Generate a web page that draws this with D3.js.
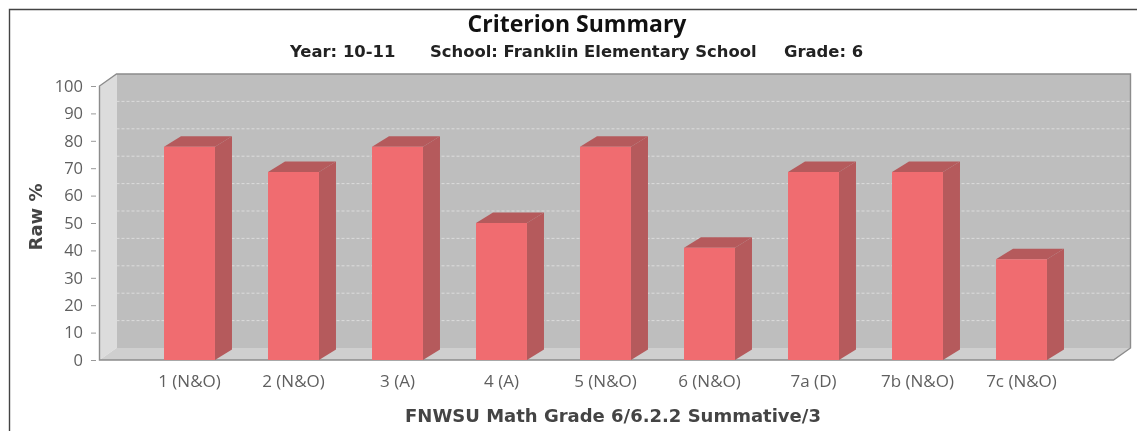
<!DOCTYPE html>
<html><head><meta charset="utf-8">
<script src="https://cdn.jsdelivr.net/npm/d3@7"></script>
<style>
html,body{margin:0;padding:0;background:#fff;overflow:hidden}
svg{display:block;filter:blur(0.45px)}
</style></head><body>
<svg id="c" width="1137" height="431"></svg>
<script>
const categories = ["1 (N&O)","2 (N&O)","3 (A)","4 (A)","5 (N&O)","6 (N&O)","7a (D)","7b (N&O)","7c (N&O)"];
const rawPercent = [77.8,68.6,77.8,50,77.8,41,68.6,68.6,36.8];
const yTicks = [0,10,20,30,40,50,60,70,80,90,100];
const titleText = "Criterion Summary";
const subtitleParts = ["Year: 10-11","School: Franklin Elementary School","Grade: 6"];
const subtitleStarts = [290,430,784];
const xAxisTitle = "FNWSU Math Grade 6/6.2.2 Summative/3";
const yAxisTitle = "Raw %";

const depthX = 17, depthY = 12, barDepthY = 10.5;
const plotLeft = 99.5, plotRight = 1113.5, plotTop = 86, plotBottom = 360;
const svg = d3.select("#c");
const y = d3.scaleLinear().domain([0,100]).range([plotBottom,plotTop]);
const x = d3.scaleBand().domain(categories).range([137.5,1073.5]).paddingInner(0.51).paddingOuter(0.255);
const sans = "'DejaVu Sans',sans-serif";
const open = "'Open Sans',sans-serif";

// outer frame
svg.append("path").attr("d","M9.5,431V9.5H1137").attr("fill","none").attr("stroke","#444").attr("stroke-width",1.4);

const poly = (pts,fill,stroke)=>svg.append("polygon").attr("points",pts.map(p=>p.join(",")).join(" ")).attr("fill",fill).attr("stroke",stroke||"none");

// back wall, side wall, floor
poly([[plotLeft+depthX,plotTop-depthY],[plotRight+depthX,plotTop-depthY],[plotRight+depthX,plotBottom-depthY],[plotLeft+depthX,plotBottom-depthY]],"#bebebe");
poly([[plotLeft,plotTop],[plotLeft+depthX,plotTop-depthY],[plotLeft+depthX,plotBottom-depthY],[plotLeft,plotBottom]],"#dcdcdc");
poly([[plotLeft,plotBottom],[plotLeft+depthX,plotBottom-depthY],[plotRight+depthX,plotBottom-depthY],[plotRight,plotBottom]],"#cfcfcf");
svg.append("path").attr("d",`M${plotLeft},${plotBottom}V${plotTop}L${plotLeft+depthX},${plotTop-depthY}H${plotRight+depthX}V${plotBottom-depthY}L${plotRight},${plotBottom}Z`)
  .attr("fill","none").attr("stroke","#8c8c8c").attr("stroke-width",1.4);

// gridlines on back wall
svg.append("g").selectAll("line").data(yTicks.filter(d=>d>0&&d<100)).join("line")
  .attr("x1",plotLeft+depthX).attr("x2",plotRight+depthX)
  .attr("y1",d=>y(d)-depthY).attr("y2",d=>y(d)-depthY)
  .attr("stroke","#dcdcdc").attr("stroke-width",1).attr("stroke-dasharray","3,2");

// bars
const bw = x.bandwidth();
categories.forEach((c,i)=>{
  const x0=x(c), x1=x0+bw, yt=y(rawPercent[i]);
  poly([[x1,yt],[x1+depthX,yt-barDepthY],[x1+depthX,plotBottom-barDepthY],[x1,plotBottom]],"#b55a5c");
  poly([[x0,yt],[x0+depthX,yt-barDepthY],[x1+depthX,yt-barDepthY],[x1,yt]],"#b55a5c");
  poly([[x0,yt],[x1,yt],[x1,plotBottom],[x0,plotBottom]],"#f06c70");
});

// axes
const yAxis = d3.axisLeft(y).tickValues(yTicks).tickSize(5).tickPadding(8);
const gy = svg.append("g").attr("transform",`translate(96,0)`).call(yAxis);
gy.select(".domain").remove();
gy.selectAll("line").attr("stroke","#999");
gy.selectAll("text").attr("font-family",open).attr("font-size",16.5).attr("fill","#5f5f5f");

const xAxis = d3.axisBottom(x).tickSize(0).tickPadding(15);
const gx = svg.append("g").attr("transform",`translate(0,${plotBottom})`).call(xAxis);
gx.select(".domain").remove();
gx.selectAll("text").attr("font-family",open).attr("font-size",17).attr("fill","#5f5f5f");

// titles
svg.append("text").attr("x",577).attr("y",32).attr("text-anchor","middle").attr("font-family",open).attr("font-weight","bold").attr("font-size",23).attr("fill","#111").text(titleText);
svg.append("g").selectAll("text").data(subtitleParts).join("text")
  .attr("x",(d,i)=>subtitleStarts[i]).attr("y",57).attr("font-family",sans).attr("font-weight","bold").attr("font-size",16.4).attr("fill","#222").text(d=>d);
svg.append("text").attr("x",613).attr("y",422).attr("text-anchor","middle").attr("font-family",sans).attr("font-weight","bold").attr("font-size",18).attr("fill","#444").text(xAxisTitle);
svg.append("text").attr("transform","translate(42,217) rotate(-90)").attr("text-anchor","middle").attr("font-family",sans).attr("font-weight","bold").attr("font-size",18).attr("fill","#444").text(yAxisTitle);
</script>
</body></html>
